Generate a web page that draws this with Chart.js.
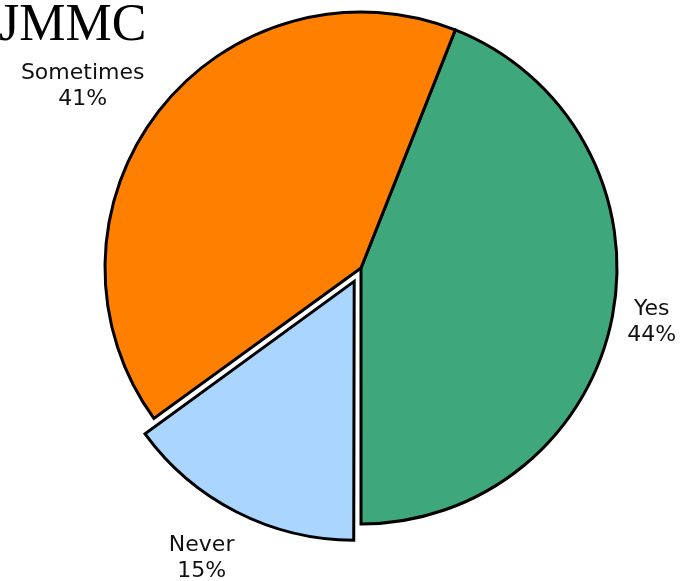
<!DOCTYPE html>
<html>
<head>
<meta charset="utf-8">
<script src="https://cdn.jsdelivr.net/npm/chart.js"></script>
<style>
    html, body { margin: 0; padding: 0; background: #ffffff; }
    #wrap { width: 689px; height: 581px; position: relative; }
</style>
</head>
<body>
<div id="wrap"><canvas id="pieChart" width="689" height="581"></canvas></div>
<script>
// Chart data
const categories = ['Yes', 'Never', 'Sometimes'];
const percents = [44, 15, 41];
const sliceColors = ['#3ea77b', '#aad5ff', '#ff7f00'];
const chartTitle = 'JMMC';

// pixel offset of the pulled-out slice (Chart.js v4 draws offset/4)
const slicePull = [0, 15, 0];
const sliceOffsets = slicePull.map(p => p * 4);

// label tweaks: extra distance outside the rim, and a small nudge
const labelGap = [38, 58, 76];
const labelNudge = [[2, -1], [-10, -3], [-16, 22]];

// draws the title and the outside labels
const outsideLabels = {
    id: 'outsideLabels',
    afterDraw(chart) {
        const ctx = chart.ctx;
        ctx.save();
        ctx.fillStyle = '#000000';
        ctx.font = '52px "Liberation Serif", "Times New Roman", serif';
        ctx.textAlign = 'left';
        ctx.textBaseline = 'alphabetic';
        ctx.fillText(chartTitle, -1, 40);

        ctx.font = '22px "DejaVu Sans", Verdana, sans-serif';
        ctx.fillStyle = '#111111';
        ctx.textAlign = 'center';
        ctx.textBaseline = 'middle';
        const meta = chart.getDatasetMeta(0);
        meta.data.forEach((arc, i) => {
            const mid = (arc.startAngle + arc.endAngle) / 2;
            const r = arc.outerRadius + slicePull[i] + labelGap[i];
            const x = arc.x + Math.cos(mid) * r + labelNudge[i][0];
            const y = arc.y + Math.sin(mid) * r + labelNudge[i][1];
            ctx.fillText(categories[i], x, y - 13);
            ctx.fillText(percents[i] + '%', x, y + 13);
        });
        ctx.restore();
    }
};

const ctx = document.getElementById('pieChart').getContext('2d');
const pieChart = new Chart(ctx, {
    type: 'pie',
    data: {
        labels: categories,
        datasets: [{
            data: percents,
            backgroundColor: sliceColors,
            borderColor: '#000000',
            borderWidth: 3,
            borderJoinStyle: 'miter',
            offset: sliceOffsets
        }]
    },
    options: {
        responsive: false,
        animation: false,
        rotation: 21.6,
        radius: 256,
        layout: { padding: { left: 33, right: 0, top: 0, bottom: 45 } },
        plugins: {
            legend: { display: false },
            tooltip: { enabled: false }
        }
    },
    plugins: [outsideLabels]
});
</script>
</body>
</html>
